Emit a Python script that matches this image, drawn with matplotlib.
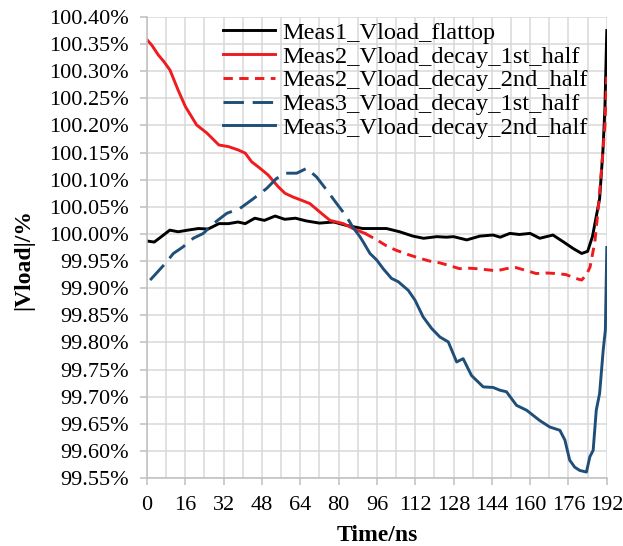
import numpy as np
import matplotlib
matplotlib.use("Agg")
import matplotlib.pyplot as plt
from matplotlib.ticker import MultipleLocator, FuncFormatter

plt.rcParams['font.family'] = ['Liberation Serif', 'DejaVu Serif']

# Meas1 flattop
t1 = [0, 3, 6, 9.5, 13, 17, 21.5, 25.5, 30, 34, 38, 41, 45, 49, 53.5, 57.5, 62, 66.5,
      72, 78, 83, 90, 96, 100, 105.5, 111, 115.5, 121, 125, 128, 133.5, 139, 144.5,
      147.5, 151.5, 155.5, 160, 164, 169.5, 174, 178, 181.5, 184, 186, 187.5, 189,
      190.4, 191.2, 192]
v1 = [99.987, 99.985, 99.995, 100.007, 100.004, 100.007, 100.010, 100.009, 100.019,
      100.019, 100.022, 100.019, 100.029, 100.025, 100.033, 100.027, 100.029, 100.024,
      100.020, 100.022, 100.016, 100.010, 100.010, 100.010, 100.004, 99.996, 99.992,
      99.995, 99.994, 99.995, 99.989, 99.996, 99.998, 99.994, 100.001, 99.999, 100.001,
      99.992, 99.998, 99.985, 99.973, 99.964, 99.968, 99.995, 100.03, 100.065, 100.155,
      100.23, 100.375]

# Meas2 decay, 1st half
t2a = [0, 2, 4.7, 7, 9.6, 13, 16, 20.7, 25, 30, 34, 38, 41, 43.7, 47.2, 50.5, 54.8,
       57.6, 61, 64, 68, 72, 76.4, 82, 86, 91]
v2a = [100.358, 100.348, 100.330, 100.318, 100.302, 100.265, 100.235, 100.201, 100.186,
       100.164, 100.161, 100.155, 100.149, 100.133, 100.121, 100.109, 100.087, 100.075,
       100.068, 100.063, 100.056, 100.041, 100.025, 100.019, 100.010, 100.001]

# Meas2 decay, 2nd half
t2b = [91, 96, 100, 104, 109, 114, 118, 122, 126, 130.5, 134, 137.5, 142, 146, 150, 154,
       158, 162.5, 167, 171, 175, 179, 181.5, 183.5, 185, 187, 188.5, 190, 191.2, 192]
v2b = [100.001, 99.989, 99.978, 99.970, 99.962, 99.955, 99.950, 99.947, 99.942, 99.936,
       99.937, 99.936, 99.934, 99.932, 99.936, 99.938, 99.933, 99.927, 99.928, 99.927,
       99.925, 99.918, 99.915, 99.925, 99.939, 99.985, 100.05, 100.13, 100.20, 100.29]

# Meas3 decay, 1st half
t3a = [1.3, 4, 7.5, 11, 15, 19.3, 23.5, 27.7, 33.3, 38.8, 44.4, 50, 54, 58, 62.5, 66.7,
       70.8, 75, 79.2, 83.3, 86]
v3a = [99.915, 99.928, 99.945, 99.964, 99.976, 99.992, 100.001, 100.019, 100.038,
       100.047, 100.065, 100.084, 100.102, 100.112, 100.112, 100.121, 100.105, 100.081,
       100.056, 100.032, 100.012]

# Meas3 decay, 2nd half
t3b = [86, 88.9, 90.3, 93.1, 95.9, 98.6, 102.1, 104.9, 109.1, 111.9, 115.3, 118.8,
       122.3, 125.8, 129.3, 132, 135.5, 138.3, 140.4, 144.5, 147.3, 150.1, 154.3, 158.5,
       164, 168.2, 172.4, 174.5, 176.5, 178.6, 180.7, 183.5, 184.9, 186.3, 187.6, 189,
       190.5, 191.4, 192]
v3b = [100.012, 99.995, 99.985, 99.964, 99.952, 99.936, 99.918, 99.912, 99.896, 99.878,
       99.847, 99.826, 99.810, 99.801, 99.764, 99.770, 99.739, 99.727, 99.718, 99.717,
       99.712, 99.709, 99.684, 99.675, 99.656, 99.644, 99.638, 99.620, 99.583, 99.570,
       99.564, 99.561, 99.589, 99.601, 99.675, 99.706, 99.786, 99.823, 99.975]

red = '#f01b1f'
blue = '#1f4e79'

fig = plt.figure(figsize=(6.23, 5.46), dpi=100)
ax = fig.add_axes([0.236, 0.1245, 0.738, 0.8444])

lw = 2.1
ax.plot(t1, v1, color='black', lw=lw, label='Meas1_Vload_flattop')
ax.plot(t2a, v2a, color=red, lw=lw, label='Meas2_Vload_decay_1st_half')
ax.plot(t2b, v2b, color=red, lw=lw, dashes=(3.2, 2.2), label='Meas2_Vload_decay_2nd_half')
ax.plot(t3a, v3a, color=blue, lw=lw, dashes=(7, 3), label='Meas3_Vload_decay_1st_half')
ax.plot(t3b, v3b, color=blue, lw=lw, label='Meas3_Vload_decay_2nd_half')

ax.set_xlim(0, 192)
ax.set_ylim(99.55, 100.40)
ax.xaxis.set_major_locator(MultipleLocator(16))
ax.xaxis.set_minor_locator(MultipleLocator(8))
ax.yaxis.set_major_locator(MultipleLocator(0.05))
ax.yaxis.set_major_formatter(FuncFormatter(lambda v, p: '%.2f%%' % v))

ax.grid(True, which='both', axis='x', color='#d9d9d9', lw=1.1)
ax.grid(True, which='major', axis='y', color='#d9d9d9', lw=1.1)
ax.set_axisbelow(True)
for s in ['top', 'right']:
    ax.spines[s].set_visible(False)
for s in ['left', 'bottom']:
    ax.spines[s].set_color('#bfbfbf')
    ax.spines[s].set_linewidth(1.1)
ax.tick_params(axis='both', which='major', labelsize=16, length=5, color='#bfbfbf', width=1.1)
ax.tick_params(axis='x', which='minor', length=0)
ax.tick_params(axis='x', pad=8)
ax.tick_params(axis='y', pad=8)

ax.set_xlabel('Time/ns', fontsize=17, fontweight='bold', labelpad=7)
ax.set_ylabel('|Vload|/%', fontsize=17, fontweight='bold')
ax.yaxis.set_label_coords(-0.245, 0.473)

ax.legend(loc='upper left', bbox_to_anchor=(0.165, 0.99), frameon=False, fontsize=17.6,
          handlelength=2.13, handletextpad=0.28, labelspacing=0.07, borderpad=0,
          borderaxespad=0)

fig.savefig('out.png', dpi=100)
